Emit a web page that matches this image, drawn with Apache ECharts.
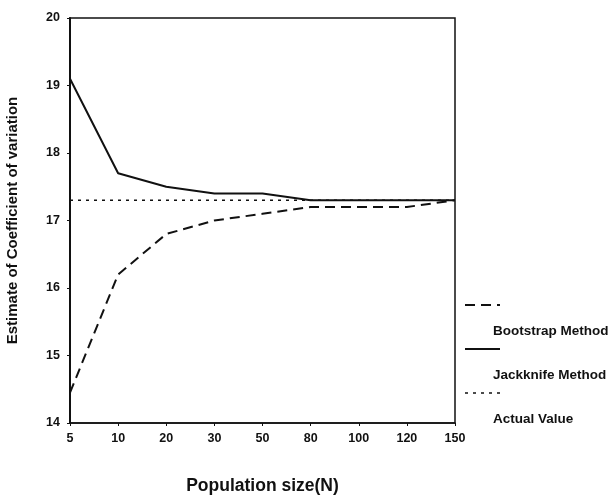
<!DOCTYPE html>
<html>
<head>
<meta charset="utf-8">
<script src="https://cdn.jsdelivr.net/npm/echarts@6/dist/echarts.min.js"></script>
<style>
  html, body { margin: 0; padding: 0; background: #fff; }
  #chart { width: 611px; height: 495px; }
</style>
</head>
<body>
<div id="chart"></div>
<script>
const categories = ['5', '10', '20', '30', '50', '80', '100', '120', '150']
const bootstrap = [14.45, 16.2, 16.8, 17.0, 17.1, 17.2, 17.2, 17.2, 17.3]
const jackknife = [19.1, 17.7, 17.5, 17.4, 17.4, 17.3, 17.3, 17.3, 17.3]
const actual = [17.3, 17.3, 17.3, 17.3, 17.3, 17.3, 17.3, 17.3, 17.3]
const seriesNames = ['Bootstrap Method', 'Jackknife Method', 'Actual Value']

const ink = '#111'
const font = '"Liberation Sans", Arial, sans-serif'

const lineStyles = [
  { type: [10, 6], width: 2 },
  { type: 'solid', width: 2 },
  { type: [3, 5], width: 1.5 }
]

// hand-made legend: sample line with the label below it
const legendGraphic = []
seriesNames.forEach((name, i) => {
  const y = 305 + i * 44
  legendGraphic.push({
    type: 'line',
    shape: { x1: 465, y1: y, x2: 500, y2: y },
    style: { stroke: ink, lineWidth: lineStyles[i].width, lineDash: lineStyles[i].type === 'solid' ? null : lineStyles[i].type }
  })
  legendGraphic.push({
    type: 'text',
    left: 493,
    top: y + 19,
    style: { text: name, fill: ink, font: 'bold 13.5px ' + font }
  })
})

const chart = echarts.init(document.getElementById('chart'))
chart.setOption({
  animation: false,
  backgroundColor: '#fff',
  grid: {
    left: 70, right: 156, top: 18, bottom: 72,
    containLabel: false, outerBoundsMode: 'none',
    show: true, borderColor: ink, borderWidth: 1.5
  },
  xAxis: {
    type: 'category',
    data: categories,
    boundaryGap: false,
    name: 'Population size(N)',
    nameLocation: 'middle',
    nameGap: 54,
    nameTextStyle: { color: ink, fontFamily: font, fontWeight: 'bold', fontSize: 17.5 },
    axisLine: { lineStyle: { color: ink, width: 1.5 } },
    axisTick: { show: true, length: 3, lineStyle: { color: ink } },
    axisLabel: { color: ink, fontFamily: font, fontWeight: 'bold', fontSize: 12.5, margin: 9 },
    splitLine: { show: false }
  },
  yAxis: {
    type: 'value',
    min: 14,
    max: 20,
    interval: 1,
    name: 'Estimate of Coefficient of variation',
    nameLocation: 'middle',
    nameGap: 50,
    nameTextStyle: { color: ink, fontFamily: font, fontWeight: 'bold', fontSize: 15 },
    axisLine: { show: true, lineStyle: { color: ink, width: 2 } },
    axisTick: { show: true, length: 3, lineStyle: { color: ink } },
    axisLabel: { color: ink, fontFamily: font, fontWeight: 'bold', fontSize: 12.5, margin: 10 },
    splitLine: { show: false }
  },
  graphic: legendGraphic,
  series: [
    { name: seriesNames[0], type: 'line', data: bootstrap, showSymbol: false, lineStyle: { color: ink, ...lineStyles[0] } },
    { name: seriesNames[1], type: 'line', data: jackknife, showSymbol: false, lineStyle: { color: ink, ...lineStyles[1] } },
    { name: seriesNames[2], type: 'line', data: actual, showSymbol: false, lineStyle: { color: ink, ...lineStyles[2] } }
  ]
})
</script>
</body>
</html>
